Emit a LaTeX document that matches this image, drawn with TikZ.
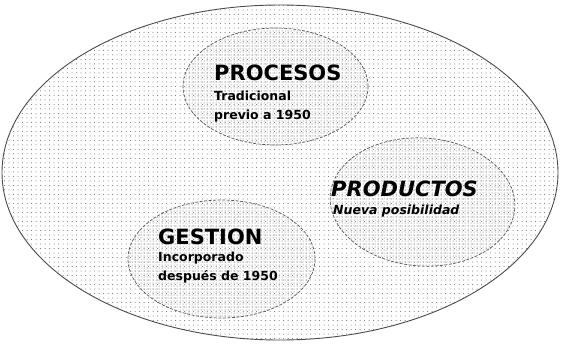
\documentclass[tikz,border=0pt]{standalone}
\usepackage{fontspec}
\setmainfont{DejaVu Sans}
\usetikzlibrary{patterns.meta}
\begin{document}
\begin{tikzpicture}[x=1pt,y=-1pt,
  outerset/.style={draw=black!70,line width=0.9pt,
    pattern={Dots[distance=4.5pt,radius=0.5pt]},pattern color=black!60},
  innerset/.style={draw=black!65,line width=0.7pt,dash pattern=on 3pt off 1.5pt,
    pattern={Dots[distance=3pt,radius=0.5pt]},pattern color=black!60},
  title/.style={font=\bfseries\fontsize{21}{22}\selectfont,inner sep=0pt,anchor=base west},
  sub/.style={font=\bfseries\fontsize{12.5}{18.5}\selectfont,inner sep=0pt,anchor=base west,align=left},
  ititle/.style={title,font=\bfseries\itshape\fontsize{21}{22}\selectfont},
  isub/.style={sub,font=\bfseries\itshape\fontsize{12.5}{18.5}\selectfont}]
\useasboundingbox (0,0) rectangle (562,343);
\fill[white] (0,0) rectangle (562,343);
\path[outerset] (280,172.5) ellipse [x radius=278, y radius=167.5];
\path[innerset] (275.5,86.5) ellipse [x radius=92.5, y radius=58.5];
\path[innerset] (422.5,202) [rotate around={-4:(422.5,202)}] ellipse [x radius=92.5, y radius=64];
\path[innerset] (221.5,259) ellipse [x radius=93.5, y radius=59];
\node[title] (procesos) at (214,80) {PROCESOS};
\node[sub] (procsub) at (214,119) {Tradicional\\previo a 1950};
\node[ititle] (productos) at (331,196) {PRODUCTOS};
\node[isub] (prodsub) at (333,214) {Nueva posibilidad};
\node[title] (gestion) at (158,244) {GESTION};
\node[sub] (gestsub) at (158,280) {Incorporado\\después de 1950};
\end{tikzpicture}
\end{document}
